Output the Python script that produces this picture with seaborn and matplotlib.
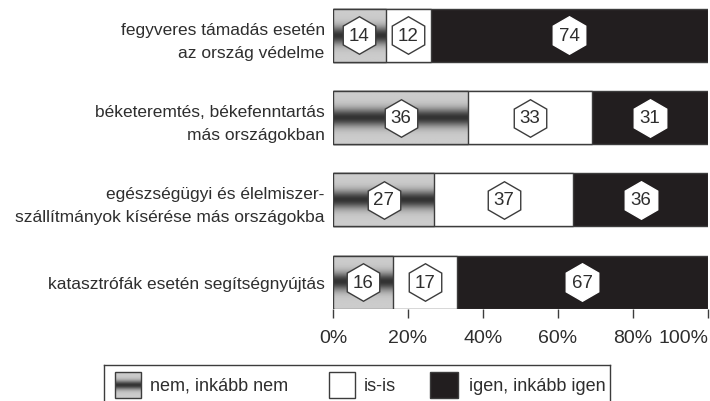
import numpy as np
import pandas as pd
import matplotlib
matplotlib.use("Agg")
import matplotlib.pyplot as plt
from matplotlib.patches import Rectangle
import seaborn as sns

# --- data -------------------------------------------------------------
categories = [
    "fegyveres támadás esetén\naz ország védelme",
    "béketeremtés, békefenntartás\nmás országokban",
    "egészségügyi és élelmiszer-\nszállítmányok kísérése más országokba",
    "katasztrófák esetén segítségnyújtás",
]
nem = [14, 36, 27, 16]
is_is = [12, 33, 37, 17]
igen = [74, 31, 36, 67]
tick_values = [0, 20, 40, 60, 80, 100]
tick_labels = ["0%", "20%", "40%", "60%", "80%", "100%"]
legend_labels = ["nem, inkább nem", "is-is", "igen, inkább igen"]

# --- style ------------------------------------------------------------
sns.set_theme(style="white")
plt.rcParams["font.family"] = ["Liberation Sans", "DejaVu Sans"]

TEXT = "#2e2e2e"
DARK = "#221e1f"
EDGE = "#3c3c3c"
BAR_H = 0.644


def gradient_array(n=200):
    t = np.linspace(-1, 1, n)
    v = 0.80 - 0.60 * np.exp(-(t / 0.34) ** 2)
    return np.repeat(v[:, None], 8, axis=1)


df = pd.DataFrame({"kategoria": categories, "nem": nem, "is_is": is_is, "igen": igen})
df["end_nem"] = df["nem"]
df["end_is"] = df["nem"] + df["is_is"]
df["end_igen"] = df["end_is"] + df["igen"]

W, H = 710, 402
fig = plt.figure(figsize=(W / 100, H / 100), dpi=100)
ax = fig.add_axes([333 / W, (H - 309.5) / H, 375 / W, 304.5 / H])

common = dict(y="kategoria", orient="h", width=BAR_H, errorbar=None,
              saturation=1, edgecolor=EDGE, linewidth=1.0, ax=ax)
sns.barplot(data=df, x="end_igen", color=DARK, **common)
sns.barplot(data=df, x="end_is", color="white", **common)
sns.barplot(data=df, x="end_nem", color="#8a8a8a", **common)

# shaded gradient for the "nem" segments
grad = gradient_array()
for patch in ax.patches[-len(categories):]:
    x0, y0 = patch.get_x(), patch.get_y()
    w, h = patch.get_width(), patch.get_height()
    im = ax.imshow(grad, cmap="gray", vmin=0, vmax=1, aspect="auto",
                   extent=(x0, x0 + w, y0 + h, y0), interpolation="bilinear",
                   zorder=1.5)
    im.set_clip_path(patch)
    patch.set_facecolor("none")
    patch.set_zorder(2)

# hexagon value badges
for i in range(len(categories)):
    segments = [
        (0, nem[i], EDGE),
        (nem[i], is_is[i], EDGE),
        (nem[i] + is_is[i], igen[i], "white"),
    ]
    for left, val, mec in segments:
        cx = left + val / 2
        ax.plot(cx, i, marker="h", markersize=27, markerfacecolor="white",
                markeredgecolor=mec, markeredgewidth=1.0, zorder=4)
        ax.text(cx, i, f"{val}", ha="center", va="center", fontsize=13.5,
                color=TEXT, zorder=5)

ax.set_xlim(0, 100)
ax.set_ylim(3 + BAR_H / 2, -0.383)
for s in ax.spines.values():
    s.set_visible(False)
ax.set_xlabel("")
ax.set_ylabel("")
ax.set_xticks(tick_values)
ax.set_xticklabels(tick_labels, fontsize=14, color=TEXT)
ax.get_xticklabels()[-1].set_horizontalalignment("right")
ax.tick_params(axis="x", which="both", bottom=True, direction="out", length=6.5,
               width=1.0, color=EDGE, pad=8)
ax.tick_params(axis="y", length=0, pad=6, labelsize=12.5, labelcolor=TEXT)
for lbl in ax.get_yticklabels():
    lbl.set_multialignment("right")
    lbl.set_linespacing(1.65)

# --- legend box -------------------------------------------------------
lax = fig.add_axes([104 / W, 0, (610 - 104) / W, (H - 366) / H])
lax.set_xticks([])
lax.set_yticks([])
lax.set_facecolor("none")
lax.spines["bottom"].set_visible(False)
for k in ("left", "top", "right"):
    lax.spines[k].set_color(EDGE)
    lax.spines[k].set_linewidth(1.0)

sq_top, sq_bot = 373, 399
boxes = [(115, 141), (329, 355), (430, 458)]
text_x = [150, 364, 469]
fills = [None, "white", DARK]
for (bx0, bx1), tx, fc, lab in zip(boxes, text_x, fills, legend_labels):
    rect = Rectangle((bx0, sq_top), bx1 - bx0, sq_bot - sq_top,
                     facecolor="none" if fc is None else fc,
                     edgecolor=EDGE, linewidth=1.0, zorder=2)
    lax.add_patch(rect)
    if fc is None:
        im = lax.imshow(grad, cmap="gray", vmin=0, vmax=1, aspect="auto",
                        extent=(bx0, bx1, sq_bot, sq_top), interpolation="bilinear",
                        zorder=1)
        im.set_clip_path(rect)
    lax.text(tx, (sq_top + sq_bot) / 2 + 0.5, lab, ha="left", va="center",
             fontsize=13, color=TEXT)
lax.set_xlim(104, 610)
lax.set_ylim(H, 366)

fig.savefig("out.png", dpi=100)
